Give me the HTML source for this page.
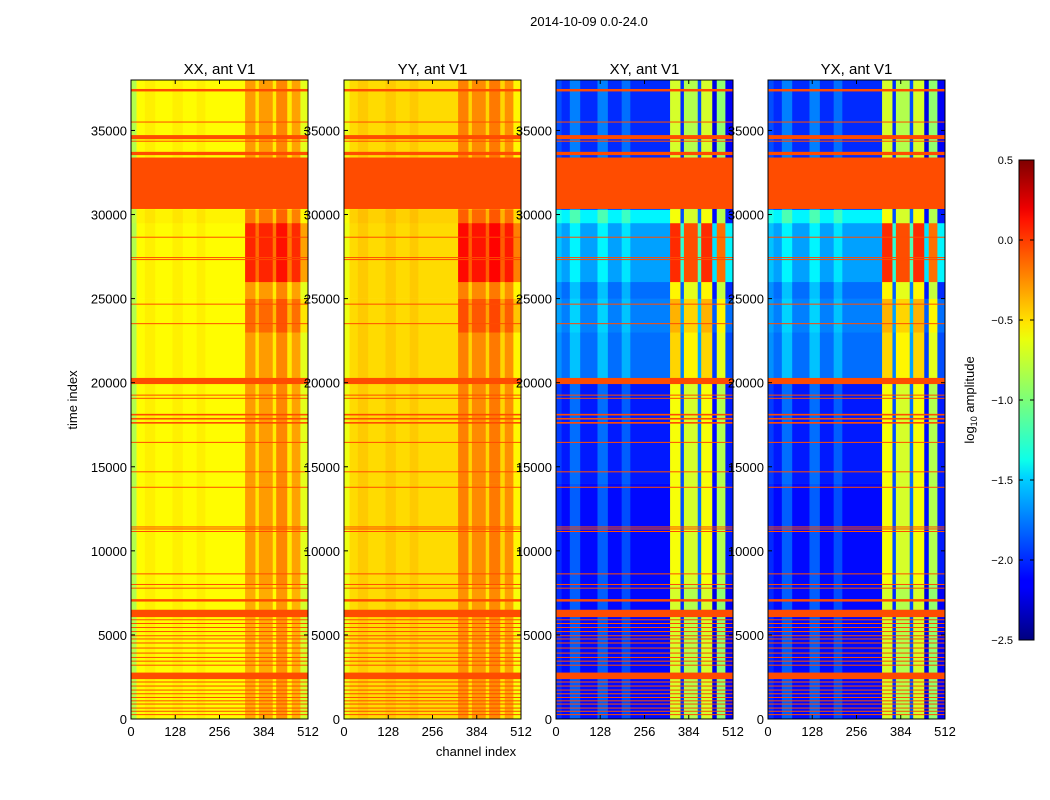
<!DOCTYPE html>
<html><head><meta charset="utf-8"><style>
body{margin:0;background:#fff;}
svg{display:block;font-family:"Liberation Sans","DejaVu Sans",sans-serif;}
</style></head><body>
<svg id="fig" width="1050" height="800" xmlns="http://www.w3.org/2000/svg">
<text x="589" y="26" font-size="13" text-anchor="middle">2014-10-09 0.0-24.0</text>
<g id="panels"></g>
<text transform="translate(77,400) rotate(-90)" font-size="13" text-anchor="middle">time index</text>
<text x="476" y="756" font-size="13" text-anchor="middle">channel index</text>
<defs><linearGradient id="jet" x1="0" y1="1" x2="0" y2="0">
<stop offset="0" stop-color="#00007f"/><stop offset="0.11" stop-color="#0000ff"/><stop offset="0.125" stop-color="#0000ff"/><stop offset="0.34" stop-color="#00d4ff"/><stop offset="0.375" stop-color="#0dffe9"/><stop offset="0.5" stop-color="#7cff79"/><stop offset="0.625" stop-color="#e9ff0d"/><stop offset="0.66" stop-color="#ffe600"/><stop offset="0.875" stop-color="#ff1300"/><stop offset="0.9" stop-color="#ed0000"/><stop offset="1" stop-color="#7f0000"/>
</linearGradient></defs>
<g id="cbar">
<rect x="1019" y="160" width="15" height="480" fill="url(#jet)" stroke="#000" stroke-width="1"/>
</g>
<text transform="translate(974,400) rotate(-90)" font-size="13" text-anchor="middle">log<tspan font-size="9" dy="3">10</tspan><tspan dy="-3"> amplitude</tspan></text>
</svg>
<script>
const NS="http://www.w3.org/2000/svg";
// channel bin edges and per-pol log10 amplitude per channel bin
const chanEdges=[0,16,40,70,120,150,190,215,330,360,370,410,420,452,465,490,512];
const xxChan=[-0.85,-0.62,-0.58,-0.62,-0.58,-0.62,-0.58,-0.62,-0.38,-0.6,-0.38,-0.62,-0.32,-0.62,-0.4,-0.75];
const yyChan=[-0.68,-0.52,-0.47,-0.52,-0.47,-0.52,-0.47,-0.52,-0.3,-0.55,-0.33,-0.55,-0.28,-0.55,-0.35,-0.65];
const xyChan=[-2.0,-2.1,-1.85,-2.1,-1.85,-2.1,-1.9,-2.1,-0.75,-2.0,-0.85,-1.9,-0.75,-2.2,-0.95,-2.15];
const yxChan=[-2.0,-2.1,-1.85,-2.1,-1.85,-2.1,-1.9,-2.1,-0.75,-2.0,-0.85,-1.9,-0.75,-2.2,-0.95,-2.15];
// time bands and offsets (low channels = bins 0-7, high = bins 8+)
const timeEdges=[0,8000,14000,20000,23000,25000,26000,29500,30300,38000];
const parLowOff=[0,0,0,0,0,0,0,0.03,0];
const parHighOff=[0,0.05,0.05,0.05,0.2,0.05,0.4,0.15,0.05];
const crossLowOff=[0,0,0.05,0.3,0.35,0.3,0.45,0.7,0.1];
const crossHighOff=[0,0.1,0.1,0.25,0.35,0.15,0.75,0.1,0];
// flagged time ranges
const flagStart=[37320,35470,34481,34340,33534,30330,28630,27420,27300,24650,23490,19918,19240,19050,18050,17807,17564,16420,14680,13760,11400,11280,11130,8610,7980,7760,6983,6060,5880,5660,5420,5180,4930,4740,4500,4200,3900,3640,3420,3180,2372,2180,1940,1700,1480,1260,1060,870,630,440,240];
const flagEnd=[37466,35530,34724,34390,33728,33389,28680,27470,27350,24700,23540,20283,19290,19100,18147,17904,17661,16480,14730,13810,11450,11330,11180,8660,8030,7810,7128,6497,5930,5710,5470,5230,4980,4790,4550,4250,3950,3690,3470,3230,2760,2230,1990,1750,1530,1310,1110,920,680,490,290];
const panels=[{name:"XX",x:131,ch:xxChan,lo:parLowOff,hi:parHighOff},{name:"YY",x:344,ch:yyChan,lo:parLowOff,hi:parHighOff},{name:"XY",x:556,ch:xyChan,lo:crossLowOff,hi:crossHighOff},{name:"YX",x:768,ch:yxChan,lo:crossLowOff,hi:crossHighOff}];
const xTicks=[0,128,256,384,512], yTicks=[0,5000,10000,15000,20000,25000,30000,35000];
const cbTicks=["0.5","0.0","\u22120.5","\u22121.0","\u22121.5","\u22122.0","\u22122.5"], cbVals=[0.5,0,-0.5,-1,-1.5,-2,-2.5];
const W=177,T=80,B=719,TMAX=38000;
function yS(t){return B-(t/TMAX)*(B-T);}
function jet(val){let v=(val+2.5)/3;v=Math.max(0,Math.min(1,v));const c=x=>Math.round(255*Math.max(0,Math.min(1,1.5-Math.abs(x))));return `rgb(${c(4*v-3)},${c(4*v-2)},${c(4*v-1)})`;}
function el(tag,attrs,parent){const e=document.createElementNS(NS,tag);for(const k in attrs)e.setAttribute(k,attrs[k]);parent.appendChild(e);return e;}
const root=document.getElementById("panels");
panels.forEach(p=>{
  const xS=c=>p.x+c/512*W;
  const g=el("g",{},root);
  
  
  for(let ti=0;ti<timeEdges.length-1;ti++){
    for(let ci=0;ci<chanEdges.length-1;ci++){
      const v=p.ch[ci]+(ci<8?p.lo[ti]:p.hi[ti]);
      const r=el("rect",{x:xS(chanEdges[ci]),y:yS(timeEdges[ti+1]),width:xS(chanEdges[ci+1])-xS(chanEdges[ci])+0.3,height:yS(timeEdges[ti])-yS(timeEdges[ti+1])+0.3,fill:jet(v)},g);
      
      
    }
  }
  for(let i=0;i<flagStart.length;i++){
    const r=el("rect",{x:p.x,y:yS(flagEnd[i]),width:W,height:Math.max(1,yS(flagStart[i])-yS(flagEnd[i])),fill:"#ff4c00"},g);
    
    
  }
  el("rect",{x:p.x,y:T,width:W,height:B-T,fill:"none",stroke:"#000","stroke-width":1},g);
  const tt=el("text",{x:p.x+W/2,y:T-6,"font-size":15,"text-anchor":"middle"},g);
  tt.textContent=p.name+", ant V1";
  
  
  xTicks.forEach(c=>{
    el("line",{x1:xS(c),x2:xS(c),y1:B,y2:B-4,stroke:"#000"},g);
    el("line",{x1:xS(c),x2:xS(c),y1:T,y2:T+4,stroke:"#000"},g);
    const t=el("text",{x:xS(c),y:B+17,"font-size":13,"text-anchor":"middle"},g);
    t.textContent=c;
    
    
  });
  yTicks.forEach(v=>{
    el("line",{x1:p.x,x2:p.x+4,y1:yS(v),y2:yS(v),stroke:"#000"},g);
    el("line",{x1:p.x+W,x2:p.x+W-4,y1:yS(v),y2:yS(v),stroke:"#000"},g);
    const t=el("text",{x:p.x-4,y:yS(v)+5,"font-size":13,"text-anchor":"end"},g);
    t.textContent=v;
    
    
  });
});
const cb=document.getElementById("cbar");
cbVals.forEach((v,i)=>{
  const y=160+(0.5-v)/3*480;
  el("line",{x1:1019,x2:1023,y1:y,y2:y,stroke:"#000"},cb);
  el("line",{x1:1030,x2:1034,y1:y,y2:y,stroke:"#000"},cb);
  const t=el("text",{x:1013,y:y+4,"font-size":11,"text-anchor":"end"},cb);
  t.textContent=cbTicks[i];
  
  
});
</script>
</body></html>
